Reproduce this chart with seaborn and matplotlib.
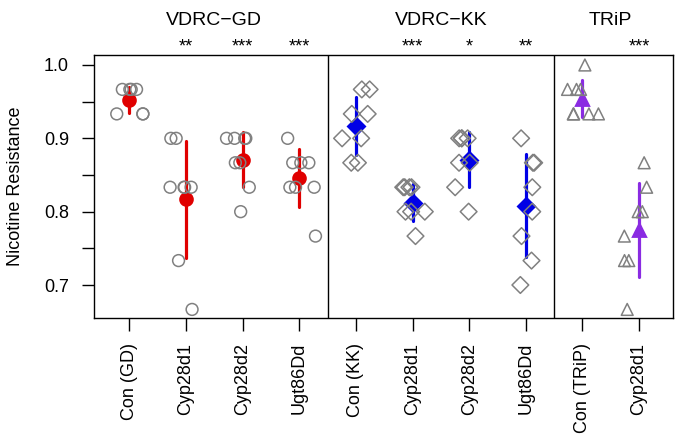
import numpy as np
import pandas as pd
import matplotlib
matplotlib.use('Agg')
import matplotlib.pyplot as plt
import matplotlib.transforms as mtransforms
import seaborn as sns

# unique keys for each genotype column, and what gets printed under it
groups = ['Con (GD)', 'Cyp28d1 GD', 'Cyp28d2 GD', 'Ugt86Dd GD',
          'Con (KK)', 'Cyp28d1 KK', 'Cyp28d2 KK', 'Ugt86Dd KK',
          'Con (TRiP)', 'Cyp28d1 TRiP']
tick_labels = ['Con (GD)', 'Cyp28d1', 'Cyp28d2', 'Ugt86Dd',
               'Con (KK)', 'Cyp28d1', 'Cyp28d2', 'Ugt86Dd',
               'Con (TRiP)', 'Cyp28d1']
stars = ['', '**', '***', '***', '', '***', '*', '**', '', '***']

panel_names = ['VDRC\u2212GD', 'VDRC\u2212KK', 'TRiP']
panel_colors = ['#e00000', '#0000e6', '#8a2be2']
panel_markers = ['o', 'D', '^']

# per-vial resistance
values = {
    'Con (GD)': [0.9667, 0.9667, 0.9667, 0.9667, 0.9333, 0.9333, 0.9333],
    'Cyp28d1 GD': [0.9, 0.9, 0.8333, 0.8333, 0.8333, 0.8333, 0.7333, 0.6667],
    'Cyp28d2 GD': [0.9, 0.9, 0.9, 0.9, 0.8667, 0.8667, 0.8333, 0.8],
    'Ugt86Dd GD': [0.9, 0.8667, 0.8667, 0.8667, 0.8333, 0.8333, 0.8333, 0.7667],
    'Con (KK)': [0.9667, 0.9667, 0.9333, 0.9333, 0.9, 0.9, 0.8667, 0.8667],
    'Cyp28d1 KK': [0.8333, 0.8333, 0.8333, 0.8333, 0.8, 0.8, 0.8, 0.7667],
    'Cyp28d2 KK': [0.9, 0.9, 0.9, 0.9, 0.8667, 0.8667, 0.8333, 0.8],
    'Ugt86Dd KK': [0.9, 0.8667, 0.8667, 0.8333, 0.8, 0.7667, 0.7333, 0.7],
    'Con (TRiP)': [1.0, 0.9667, 0.9667, 0.9667, 0.9333, 0.9333, 0.9333, 0.9333],
    'Cyp28d1 TRiP': [0.8667, 0.8333, 0.8, 0.8, 0.7667, 0.7333, 0.7333, 0.6667],
}
group_panel = [panel_names[0]] * 4 + [panel_names[1]] * 4 + [panel_names[2]] * 2

y_ticks = [0.70, 0.75, 0.80, 0.85, 0.90, 0.95, 1.00]
y_tick_labels = ['0.7', '', '0.8', '', '0.9', '', '1.0']

rows = []
for g, p in zip(groups, group_panel):
    for v in values[g]:
        rows.append({'group': g, 'panel': p, 'value': v})
df = pd.DataFrame(rows)

sns.set_theme(style='ticks')
plt.rcParams['font.family'] = ['Liberation Sans', 'DejaVu Sans']
plt.rcParams['text.color'] = 'black'
plt.rcParams['axes.labelcolor'] = 'black'
plt.rcParams['axes.unicode_minus'] = True

fig = plt.figure(figsize=(6.77, 4.37), dpi=100)
ax = fig.add_axes([0.1388, 0.2723, 0.9941 - 0.1388, 0.8741 - 0.2723])

np.random.seed(3)
for name, mk in zip(panel_names, panel_markers):
    sns.stripplot(data=df[df['panel'] == name], x='group', y='value', order=groups,
                  marker=mk, jitter=0.3, size=8.5, color='0.5', edgecolor='0.5',
                  linewidth=1.1, ax=ax)
for coll in ax.collections:
    coll.set_facecolor('none')
    coll.set_edgecolor('0.5')

sns.pointplot(data=df, x='group', y='value', hue='panel', order=groups,
              hue_order=panel_names, palette=panel_colors, markers=panel_markers,
              linestyle='none', errorbar='sd', dodge=False, markersize=8.5,
              err_kws={'linewidth': 2.3}, legend=False, ax=ax)

ax.axvline(3.5, color='black', lw=1)
ax.axvline(7.5, color='black', lw=1)

ax.set_xlim(-0.627, 9.60)
ax.set_ylim(0.655, 1.0136)
ax.set_yticks(y_ticks)
ax.set_yticklabels(y_tick_labels, fontsize=13)
ax.set_xticks(range(len(groups)))
ax.set_xticklabels(tick_labels, rotation=90, fontsize=13)
ax.set_xlabel('')
ax.set_ylabel('Nicotine Resistance', fontsize=13, labelpad=14)
ax.tick_params(axis='both', length=9, width=1, pad=9, color='black', labelcolor='black')
for s in ax.spines.values():
    s.set_linewidth(1)
    s.set_color('black')

trans = mtransforms.blended_transform_factory(ax.transData, ax.transAxes)
for i, s in enumerate(stars):
    if s:
        ax.text(i, 1.03, s, transform=trans, ha='center', va='center', fontsize=13)
ax.text(1.5, 1.13, panel_names[0], transform=trans, ha='center', va='center', fontsize=14)
ax.text(5.5, 1.13, panel_names[1], transform=trans, ha='center', va='center', fontsize=14)
ax.text(8.5, 1.13, panel_names[2], transform=trans, ha='center', va='center', fontsize=14)

fig.savefig('out.png', dpi=100)
